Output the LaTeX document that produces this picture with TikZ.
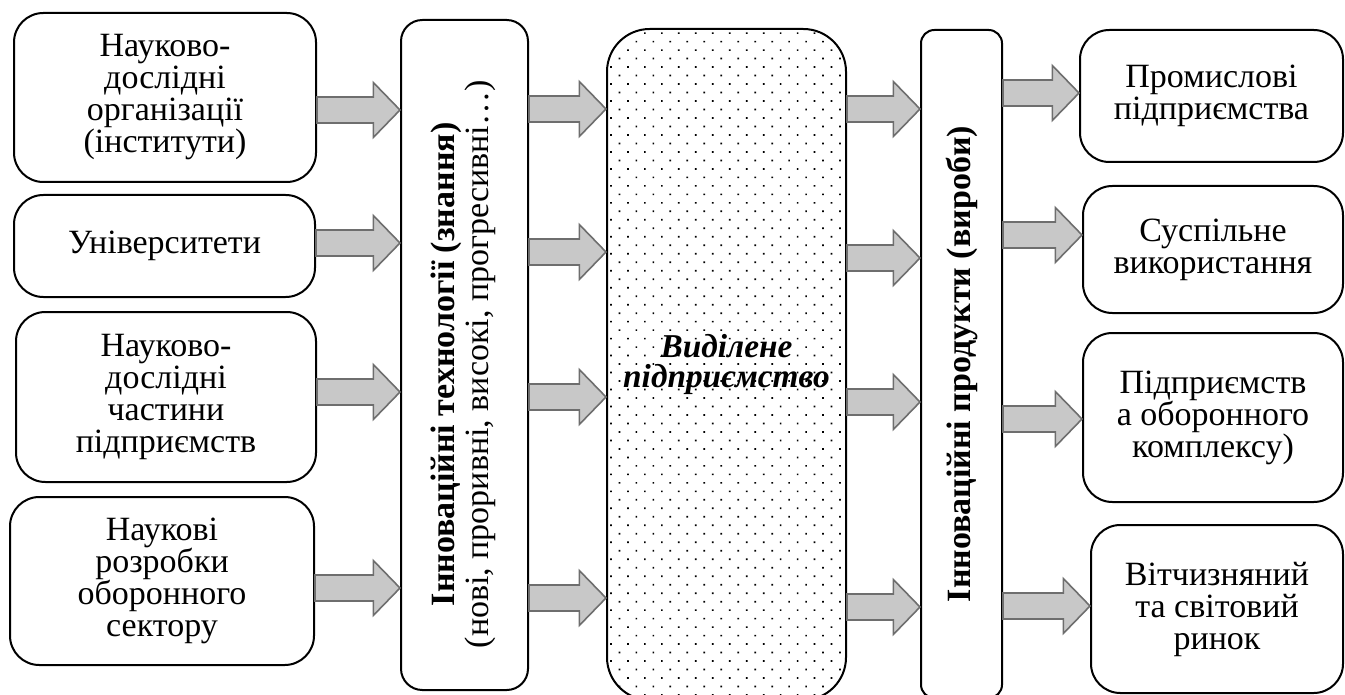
\documentclass[tikz,border=0pt]{standalone}
\usepackage{fontspec}
\setmainfont{Liberation Serif}
\usetikzlibrary{calc,patterns.meta}

\definecolor{flowfill}{HTML}{C8C8C8}
\definecolor{flowline}{HTML}{6E6E6E}
\setlength{\lineskiplimit}{-20pt}

\begin{document}
\begin{tikzpicture}[x=0.75pt,y=-0.75pt,
    box/.style={draw,line width=1.5pt,rounded corners=22pt,align=center,
      font=\fontsize{25.5}{24}\selectfont},
    firmbox/.style={box,rounded corners=32pt,
      pattern={Dots[distance=9pt,angle=45,radius=0.9pt]},
      font=\fontsize{25}{23}\selectfont\bfseries\itshape},
    flow/.style={draw=flowline,fill=flowfill,line width=1.2pt,
      to path={let \p1=(\tikztostart), \p2=(\tikztotarget) in
        (\x1,\y1+9.75pt) -- (\x2-20pt,\y1+9.75pt) -- (\x2-20pt,\y1+20.6pt)
        -- (\x2,\y1) -- (\x2-20pt,\y1-20.6pt) -- (\x2-20pt,\y1-9.75pt)
        -- (\x1,\y1-9.75pt) -- cycle}}]

          \useasboundingbox (0,0) rectangle (1345,695);

          \node[box, minimum width=226.5pt, minimum height=126.75pt] (n1) at (165,97.5) {Науково-\\дослідні\\організації\\(інститути)};
          \node[box, minimum width=225.75pt, minimum height=76.5pt] (n2) at (164.5,246) {Університети};
          \node[box, minimum width=225pt, minimum height=127.5pt] (n3) at (166,397) {Науково-\\дослідні\\частини\\підприємств};
          \node[box, minimum width=228pt, minimum height=126pt] (n4) at (162,581) {Наукові\\розробки\\оборонного\\сектору};

          \node[box, rounded corners=16pt, minimum width=95.25pt, minimum height=502.5pt] (tech) at (464.5,355)
            {\rotatebox{90}{\begin{tabular}{@{}c@{\hspace{14pt}}}\textbf{Інноваційні технології (знання)}\\(нові, проривні, високі, прогресивні…)\end{tabular}}};
          \node[firmbox, minimum width=179.25pt, minimum height=503.25pt] (firm) at (726.5,364.5) {Виділене\\підприємство};
          \node[box, rounded corners=10pt, minimum width=60.75pt, minimum height=501pt] (prod) at (961.5,364)
            {\rotatebox{90}{\textbf{Інноваційні продукти (вироби)}}};

          \node[box, minimum width=197.25pt, minimum height=99pt] (u1) at (1211.5,96) {Промислові\\підприємства};
          \node[box, minimum width=195pt, minimum height=95.25pt] (u2) at (1213,249.5) {Суспільне\\використання};
          \node[box, minimum width=195pt, minimum height=126.75pt] (u3) at (1213,417.5) {Підприємств\\а оборонного\\комплексу)};
          \node[box, minimum width=189pt, minimum height=126pt] (u4) at (1217,609) {Вітчизняний\\та світовий\\ринок};

          \path
          (n1.east |- 0,110) edge[flow] (tech.west |- 0,110)
          (n2.east |- 0,243) edge[flow] (tech.west |- 0,243)
          (n3.east |- 0,392) edge[flow] (tech.west |- 0,392)
          (n4.east |- 0,588) edge[flow] (tech.west |- 0,588)

          (tech.east |- 0,109) edge[flow] (firm.west |- 0,109)
          (tech.east |- 0,252) edge[flow] (firm.west |- 0,252)
          (tech.east |- 0,397) edge[flow] (firm.west |- 0,397)
          (tech.east |- 0,598) edge[flow] (firm.west |- 0,598)

          (firm.east |- 0,109) edge[flow] (prod.west |- 0,109)
          (firm.east |- 0,258) edge[flow] (prod.west |- 0,258)
          (firm.east |- 0,402) edge[flow] (prod.west |- 0,402)
          (firm.east |- 0,607) edge[flow] (prod.west |- 0,607)

          (prod.east |- 0,93) edge[flow] (u1.west |- 0,93)
          (prod.east |- 0,235) edge[flow] (u2.west |- 0,235)
          (prod.east |- 0,419) edge[flow] (u3.west |- 0,419)
          (prod.east |- 0,606) edge[flow] (u4.west |- 0,606)
          ;
        \end{tikzpicture}
\end{document}
